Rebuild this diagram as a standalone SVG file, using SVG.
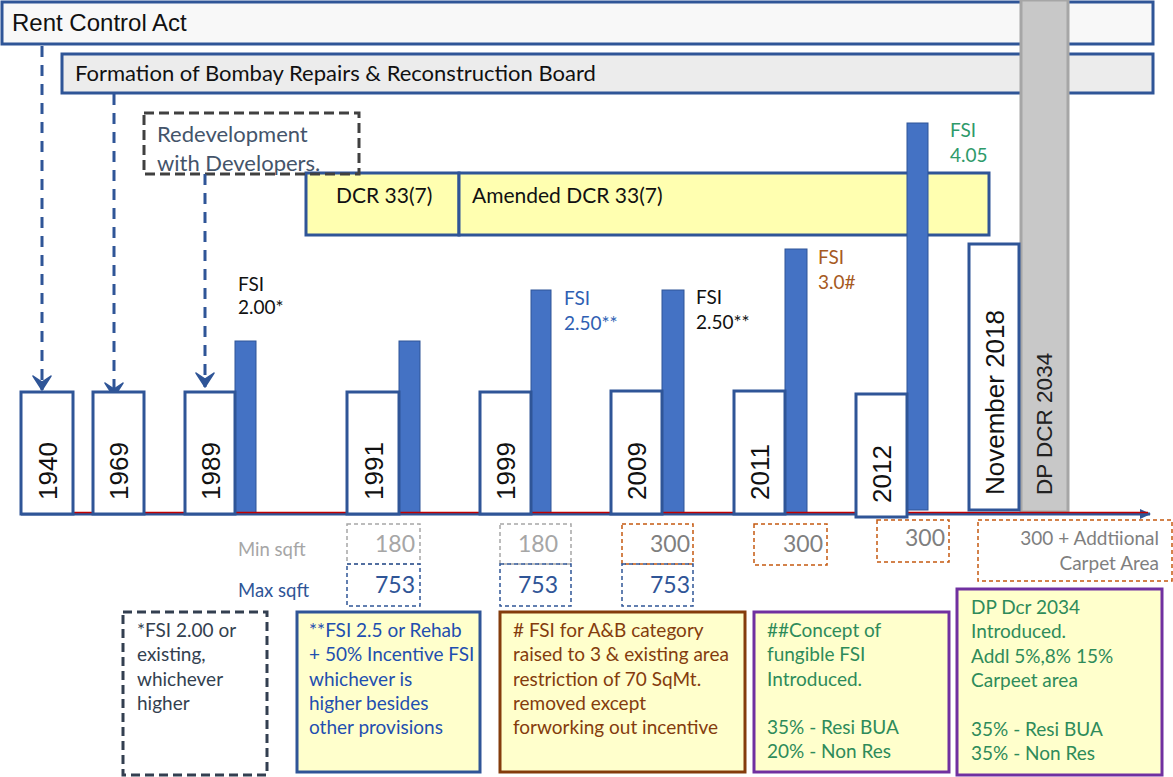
<svg xmlns="http://www.w3.org/2000/svg" width="1173" height="777" viewBox="0 0 1173 777">
<defs>
<style>
.lbl{font-family:"Liberation Sans",Arial,sans-serif;}
.cal{font-family:Lato,"Open Sans",sans-serif;}
.yr{fill:#fff;stroke:#2f5597;stroke-width:3;}
.yrt{font-family:"Liberation Sans",Arial,sans-serif;font-size:26px;fill:#111;}
.bar{fill:#4472c4;stroke:#2f5597;stroke-width:1;}
.dcr{fill:#ffffb0;stroke:#2f5597;stroke-width:3;}
.arr{fill:none;stroke:#2f5597;stroke-width:3;stroke-dasharray:11 8;}
.minb{fill:none;stroke:#a6a6a6;stroke-width:1.5;stroke-dasharray:4 3;}
.maxb{fill:none;stroke:#2f5597;stroke-width:1.5;stroke-dasharray:4 3;}
.orb{fill:none;stroke:#c55a11;stroke-width:1.5;stroke-dasharray:4 3;}
.note{font-family:Lato,"Open Sans",sans-serif;font-size:19px;}
.fsi{font-family:Lato,"Open Sans",sans-serif;font-size:19px;}
</style>
<marker id="ah" markerUnits="userSpaceOnUse" markerWidth="22" markerHeight="22" refX="17" refY="11" orient="auto" viewBox="0 0 22 22">
<path d="M3,2 L17,11 L3,20 L9,11 Z" fill="#2f5597" stroke="#2f5597" stroke-width="1.5" stroke-linejoin="round"/>
</marker>
<marker id="axh" markerUnits="userSpaceOnUse" markerWidth="12" markerHeight="12" refX="10" refY="6" orient="auto" viewBox="0 0 12 12">
<path d="M0,1 L11,6 L0,11 Z" fill="#2f5597"/>
</marker>
</defs>
<rect width="1173" height="777" fill="#fff"/>

<g id="rent-control-act">
<rect x="2" y="2" width="1151" height="42" fill="#f8f8f8" stroke="#2f5597" stroke-width="3"/>
<text x="12" y="31" class="lbl" font-size="24" fill="#111">Rent Control Act</text>
</g>
<g id="bombay-board">
<rect x="62" y="54" width="1091" height="39" fill="#ececec" stroke="#2f5597" stroke-width="3"/>
<text x="75" y="81" class="cal" font-size="22" fill="#111">Formation of Bombay Repairs &amp; Reconstruction Board</text>
</g>

<g id="dcr-337">
<rect x="306" y="173" width="153" height="62" class="dcr"/>
<text x="336" y="203" class="cal" font-size="21" fill="#111">DCR 33(7)</text>
</g>
<g id="amended-dcr">
<rect x="459" y="173" width="530" height="62" class="dcr"/>
<text x="472" y="203" class="cal" font-size="21" fill="#111">Amended DCR 33(7)</text>
</g>

<g id="redevelopment">
<rect x="144" y="113" width="215" height="61" fill="none" stroke="#404040" stroke-width="3" stroke-dasharray="10 5"/>
<text class="cal" font-size="22" fill="#44546a"><tspan x="157" y="142">Redevelopment</tspan><tspan x="157" y="171">with Developers.</tspan></text>
</g>

<g id="connectors">
<line x1="42" y1="46" x2="42" y2="390" class="arr" marker-end="url(#ah)"/>
<line x1="114" y1="94" x2="114" y2="397" class="arr" marker-end="url(#ah)"/>
<line x1="205" y1="174" x2="205" y2="387" class="arr" marker-end="url(#ah)"/>
</g>

<g id="bars">
<rect x="235" y="341" width="21" height="172" class="bar"/>
<rect x="399" y="341" width="21" height="172" class="bar"/>
<rect x="531" y="290" width="20" height="223" class="bar"/>
<rect x="662" y="290" width="22" height="223" class="bar"/>
<rect x="785" y="249" width="22" height="264" class="bar"/>
<rect x="907" y="123" width="21" height="387" class="bar"/>
</g>

<g id="fsi-labels">
<text class="fsi" fill="#111"><tspan x="238" y="291">FSI</tspan><tspan x="238" y="314">2.00*</tspan></text>
<text class="fsi" fill="#2f5fb3"><tspan x="564" y="305">FSI</tspan><tspan x="564" y="330">2.50**</tspan></text>
<text class="fsi" fill="#111"><tspan x="696" y="304">FSI</tspan><tspan x="696" y="329">2.50**</tspan></text>
<text class="fsi" fill="#a65a22"><tspan x="818" y="264">FSI</tspan><tspan x="818" y="289">3.0#</tspan></text>
<text class="fsi" fill="#2e9a6a"><tspan x="950" y="137">FSI</tspan><tspan x="950" y="162">4.05</tspan></text>
</g>

<g id="dp-dcr-2034">
<rect x="1021" y="0" width="47" height="512" fill="#c8c8c8" stroke="#a6a6a6" stroke-width="3"/>
<text transform="translate(1052,495) rotate(-90)" class="lbl" font-size="22.5" fill="#222">DP DCR 2034</text>
</g>

<g id="axis">
<line x1="21" y1="514" x2="1150" y2="514" stroke="#2f5597" stroke-width="3" marker-end="url(#axh)"/>
<line x1="30" y1="512.5" x2="1148" y2="512.5" stroke="#c00000" stroke-width="1.5"/>
</g>

<g id="y1940"><rect x="21" y="392" width="52" height="122" class="yr"/><text transform="translate(56.5,500) rotate(-90)" class="yrt">1940</text></g>
<g id="y1969"><rect x="93" y="392" width="51" height="122" class="yr"/><text transform="translate(127.5,500) rotate(-90)" class="yrt">1969</text></g>
<g id="y1989"><rect x="185" y="392" width="50" height="122" class="yr"/><text transform="translate(219.5,500) rotate(-90)" class="yrt">1989</text></g>
<g id="y1991"><rect x="347" y="392" width="52" height="122" class="yr"/><text transform="translate(382.5,500) rotate(-90)" class="yrt">1991</text></g>
<g id="y1999"><rect x="480" y="392" width="51" height="122" class="yr"/><text transform="translate(515,500) rotate(-90)" class="yrt">1999</text></g>
<g id="y2009"><rect x="611" y="391" width="51" height="123" class="yr"/><text transform="translate(646,500) rotate(-90)" class="yrt">2009</text></g>
<g id="y2011"><rect x="734" y="391" width="51" height="123" class="yr"/><text transform="translate(769,500) rotate(-90)" class="yrt">2011</text></g>
<g id="y2012"><rect x="856" y="394" width="51" height="123" class="yr"/><text transform="translate(891,503) rotate(-90)" class="yrt">2012</text></g>
<g id="nov2018"><rect x="969" y="244" width="50" height="266" class="yr"/><text transform="translate(1004,495) rotate(-90)" class="yrt" font-size="27.5">November 2018</text></g>

<g id="sqft-labels">
<text x="238" y="556" class="cal" font-size="18.5" fill="#a6a6a6">Min sqft</text>
<text x="238" y="597" class="cal" font-size="18.5" fill="#2f5597">Max sqft</text>
</g>
<g id="sqft-1991">
<rect x="347" y="524" width="73" height="40" class="minb"/>
<text x="415" y="552" class="cal" font-size="23" fill="#a6a6a6" text-anchor="end">180</text>
<rect x="347" y="564" width="73" height="42" class="maxb"/>
<text x="415" y="593" class="cal" font-size="23" fill="#2f5597" text-anchor="end">753</text>
</g>
<g id="sqft-1999">
<rect x="500" y="524" width="71" height="40" class="minb"/>
<text x="558" y="552" class="cal" font-size="23" fill="#a6a6a6" text-anchor="end">180</text>
<rect x="500" y="564" width="71" height="42" class="maxb"/>
<text x="558" y="593" class="cal" font-size="23" fill="#2f5597" text-anchor="end">753</text>
</g>
<g id="sqft-2009">
<rect x="622" y="524" width="71" height="40" class="orb"/>
<text x="690" y="552" class="cal" font-size="23" fill="#7f7f7f" text-anchor="end">300</text>
<rect x="622" y="564" width="71" height="42" class="maxb"/>
<text x="690" y="593" class="cal" font-size="23" fill="#2f5597" text-anchor="end">753</text>
</g>
<g id="sqft-2011">
<rect x="754" y="524" width="73" height="41" class="orb"/>
<text x="823" y="552" class="cal" font-size="23" fill="#7f7f7f" text-anchor="end">300</text>
</g>
<g id="sqft-2012">
<rect x="877" y="520" width="72" height="42" class="orb"/>
<text x="945" y="546" class="cal" font-size="23" fill="#7f7f7f" text-anchor="end">300</text>
</g>
<g id="sqft-2034">
<rect x="978" y="520" width="194" height="61" class="orb"/>
<text class="cal" font-size="19" fill="#7f7f7f" text-anchor="end"><tspan x="1159" y="545">300 +  Addtiional</tspan><tspan x="1159" y="570">Carpet Area</tspan></text>
</g>

<g id="note-1989">
<rect x="123" y="612" width="144" height="163" fill="#fff" stroke="#333f50" stroke-width="3" stroke-dasharray="9 5"/>
<text class="note" fill="#333f50"><tspan x="137" y="637">*FSI 2.00 or</tspan><tspan x="137" y="661">existing,</tspan><tspan x="137" y="686">whichever</tspan><tspan x="137" y="710">higher</tspan></text>
</g>
<g id="note-1991">
<rect x="297" y="612" width="183" height="160" fill="#ffffcc" stroke="#2f5597" stroke-width="3"/>
<text class="note" fill="#1f4fb0"><tspan x="309" y="637">**FSI 2.5 or Rehab</tspan><tspan x="309" y="661">+ 50% Incentive FSI</tspan><tspan x="309" y="686">whichever is</tspan><tspan x="309" y="710">higher besides</tspan><tspan x="309" y="734">other provisions</tspan></text>
</g>
<g id="note-2009">
<rect x="500" y="612" width="245" height="160" fill="#ffffcc" stroke="#843c0c" stroke-width="3"/>
<text class="note" fill="#843c0c"><tspan x="513" y="637"># FSI for A&amp;B category</tspan><tspan x="513" y="661">raised to 3 &amp; existing area</tspan><tspan x="513" y="686">restriction of 70 SqMt.</tspan><tspan x="513" y="710">removed except</tspan><tspan x="513" y="734">forworking out incentive</tspan></text>
</g>
<g id="note-2012">
<rect x="754" y="612" width="195" height="160" fill="#ffffcc" stroke="#7030a0" stroke-width="3"/>
<text class="note" fill="#2e8b5a"><tspan x="767" y="637">##Concept of</tspan><tspan x="767" y="661">fungible FSI</tspan><tspan x="767" y="686">Introduced.</tspan><tspan x="767" y="734">35% - Resi BUA</tspan><tspan x="767" y="758">20% - Non Res</tspan></text>
</g>
<g id="note-2034">
<rect x="957" y="589" width="205" height="186" fill="#ffffcc" stroke="#7030a0" stroke-width="3"/>
<text class="note" fill="#2e8b5a"><tspan x="971" y="614">DP Dcr 2034</tspan><tspan x="971" y="638">Introduced.</tspan><tspan x="971" y="663">Addl 5%,8% 15%</tspan><tspan x="971" y="687">Carpeet area</tspan><tspan x="971" y="736">35% - Resi BUA</tspan><tspan x="971" y="760">35% - Non Res</tspan></text>
</g>
</svg>
